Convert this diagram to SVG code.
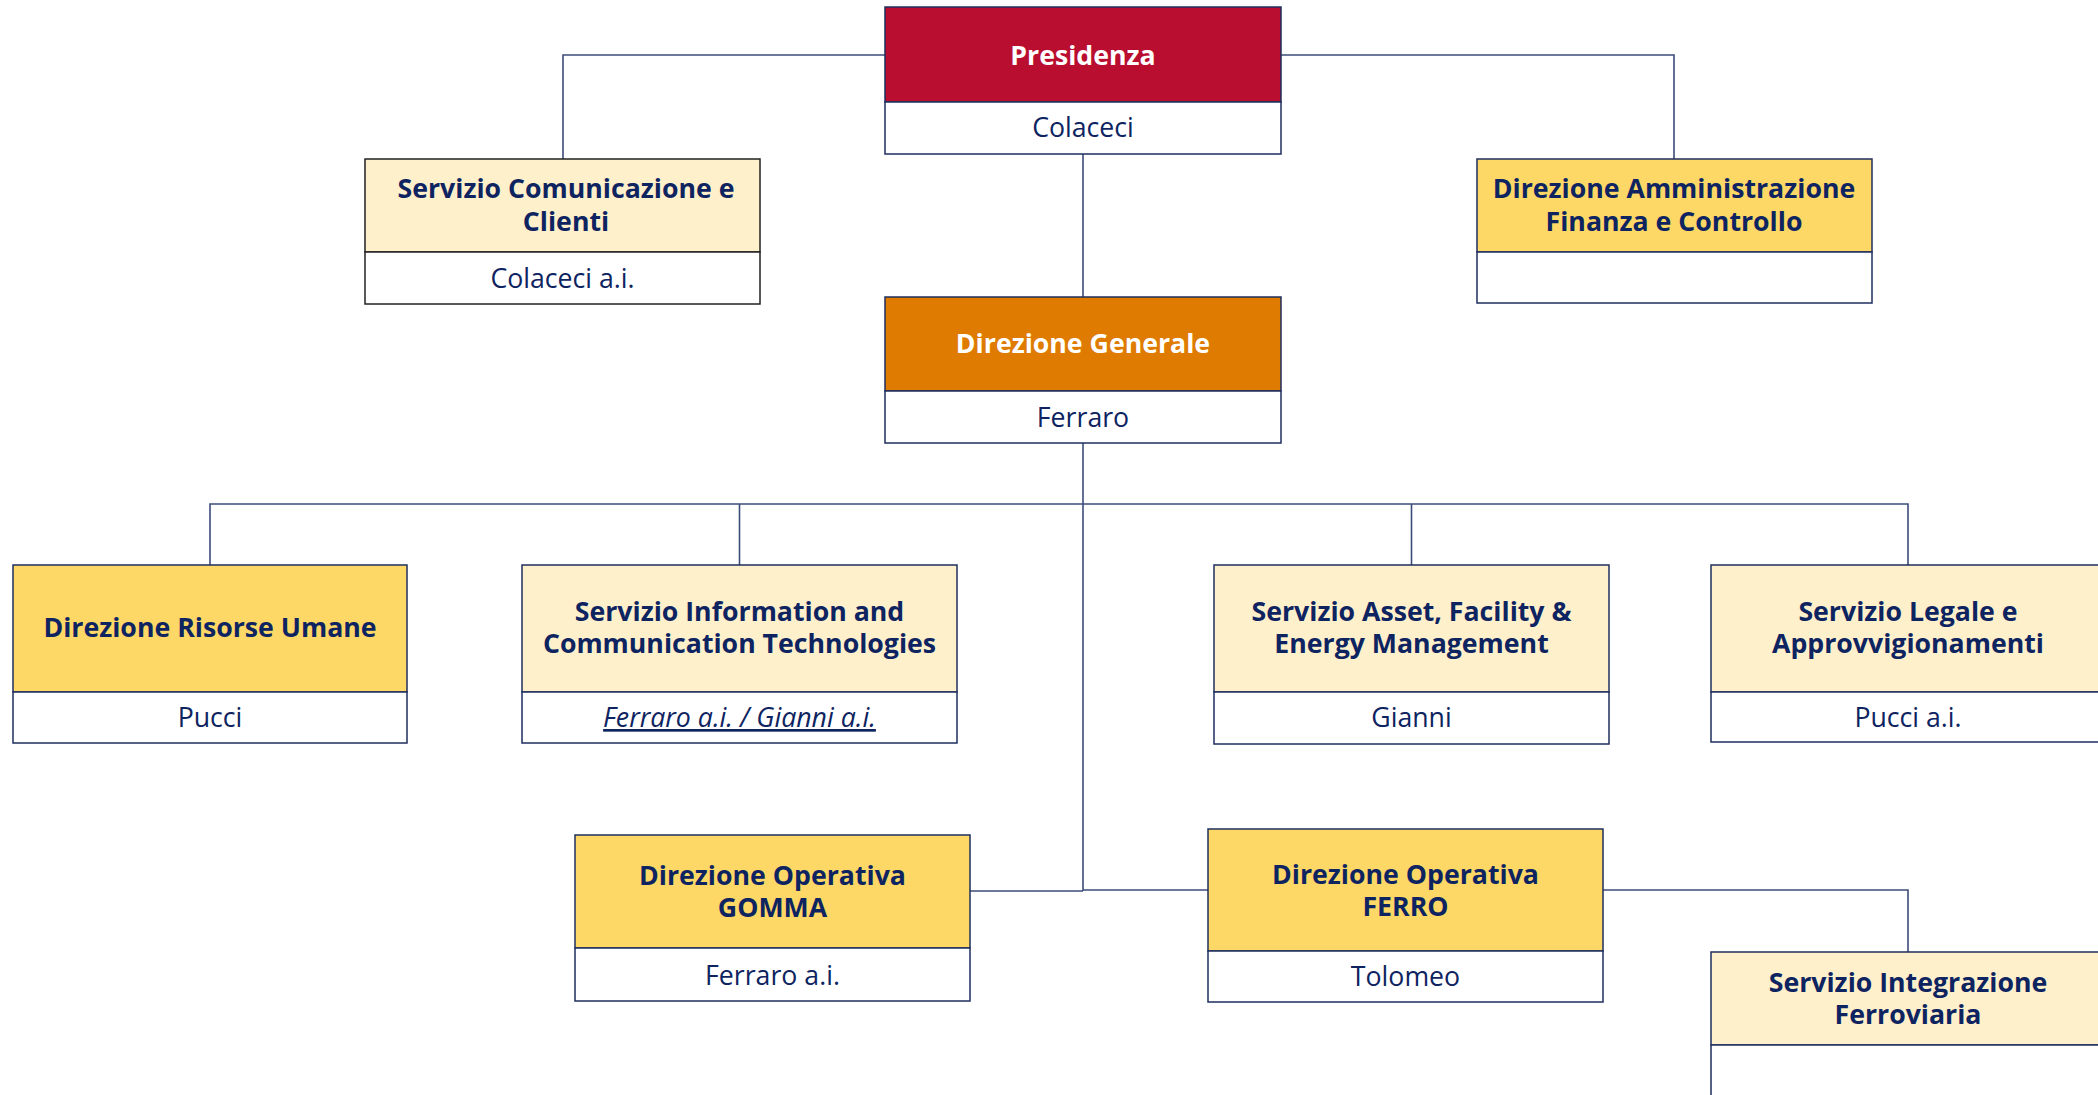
<svg xmlns="http://www.w3.org/2000/svg" width="2098" height="1095" viewBox="0 0 2098 1095">
<style>
.hd{stroke:#1f2f5e;stroke-width:1.5}
.sb{fill:#ffffff;stroke:#1f2f5e;stroke-width:1.5}
.red{fill:#b90e2f}
.org{fill:#de7b00}
.dy{fill:#fdd866}
.ly{fill:#fff0cc}
.t{font-family:"Open Sans","Noto Sans",sans-serif;font-size:26.7px;text-anchor:middle}
.b{font-weight:700;fill:#0e2461}
.w{font-weight:700;fill:#ffffff}
.n{font-weight:400;fill:#0e2461}
.c{fill:none;stroke:#3d4d7a;stroke-width:1.6}
</style>
<rect width="2098" height="1095" fill="#ffffff"/>
<g id="connectors">
<path class="c" d="M885,55 H563 V159"/>
<path class="c" d="M1281,55 H1674 V159"/>
<path class="c" d="M1083,154 V297"/>
<path class="c" d="M1083,443 V891"/>
<path class="c" d="M210,565 V504 H1908 V565"/>
<path class="c" d="M739.5,504 V565"/>
<path class="c" d="M1411.5,504 V565"/>
<path class="c" d="M970,891 H1083"/>
<path class="c" d="M1083,890 H1208"/>
<path class="c" d="M1603,890 H1908 V952"/>
</g>
<g id="presidenza">
<rect class="hd red" x="885" y="7" width="396" height="95"/>
<rect class="sb" x="885" y="102" width="396" height="52"/>
<text class="t w" x="1083" y="65">Presidenza</text>
<text class="t n" x="1083" y="137">Colaceci</text>
</g>
<g id="comunicazione">
<rect class="hd ly" x="365" y="159" width="395" height="93" style="stroke:#222"/>
<rect class="sb" x="365" y="252" width="395" height="52" style="stroke:#222"/>
<text class="t b" x="566" y="198">Servizio Comunicazione e</text>
<text class="t b" x="566" y="231">Clienti</text>
<text class="t n" x="562.5" y="288">Colaceci a.i.</text>
</g>
<g id="amministrazione">
<rect class="hd dy" x="1477" y="159" width="395" height="93"/>
<rect class="sb" x="1477" y="252" width="395" height="51"/>
<text class="t b" x="1674" y="198">Direzione Amministrazione</text>
<text class="t b" x="1674" y="231">Finanza e Controllo</text>
</g>
<g id="generale">
<rect class="hd org" x="885" y="297" width="396" height="94"/>
<rect class="sb" x="885" y="391" width="396" height="52"/>
<text class="t w" x="1083" y="353">Direzione Generale</text>
<text class="t n" x="1083" y="427">Ferraro</text>
</g>
<g id="risorse">
<rect class="hd dy" x="13" y="565" width="394" height="127"/>
<rect class="sb" x="13" y="692" width="394" height="51"/>
<text class="t b" x="210" y="637">Direzione Risorse Umane</text>
<text class="t n" x="210" y="727">Pucci</text>
</g>
<g id="ict">
<rect class="hd ly" x="522" y="565" width="435" height="127"/>
<rect class="sb" x="522" y="692" width="435" height="51"/>
<text class="t b" x="739.5" y="621">Servizio Information and</text>
<text class="t b" x="739.5" y="653">Communication Technologies</text>
<text class="t n" x="739.5" y="727" font-style="italic" text-decoration="underline">Ferraro a.i. / Gianni a.i.</text>
</g>
<g id="asset">
<rect class="hd ly" x="1214" y="565" width="395" height="127"/>
<rect class="sb" x="1214" y="692" width="395" height="52"/>
<text class="t b" x="1411.5" y="621">Servizio Asset, Facility &amp;</text>
<text class="t b" x="1411.5" y="653">Energy Management</text>
<text class="t n" x="1411.5" y="727">Gianni</text>
</g>
<g id="legale">
<rect class="hd ly" x="1711" y="565" width="395" height="127"/>
<rect class="sb" x="1711" y="692" width="395" height="50"/>
<text class="t b" x="1908" y="621">Servizio Legale e</text>
<text class="t b" x="1908" y="653">Approvvigionamenti</text>
<text class="t n" x="1908" y="727">Pucci a.i.</text>
</g>
<g id="gomma">
<rect class="hd dy" x="575" y="835" width="395" height="113"/>
<rect class="sb" x="575" y="948" width="395" height="53"/>
<text class="t b" x="772.5" y="885">Direzione Operativa</text>
<text class="t b" x="772.5" y="917">GOMMA</text>
<text class="t n" x="772.5" y="985">Ferraro a.i.</text>
</g>
<g id="ferro">
<rect class="hd dy" x="1208" y="829" width="395" height="122"/>
<rect class="sb" x="1208" y="951" width="395" height="51"/>
<text class="t b" x="1405.5" y="884">Direzione Operativa</text>
<text class="t b" x="1405.5" y="916">FERRO</text>
<text class="t n" x="1405.5" y="986">Tolomeo</text>
</g>
<g id="integrazione">
<rect class="hd ly" x="1711" y="952" width="395" height="93"/>
<rect class="sb" x="1711" y="1045" width="395" height="60"/>
<text class="t b" x="1908" y="991.5">Servizio Integrazione</text>
<text class="t b" x="1908" y="1023.5">Ferroviaria</text>
</g>
</svg>
